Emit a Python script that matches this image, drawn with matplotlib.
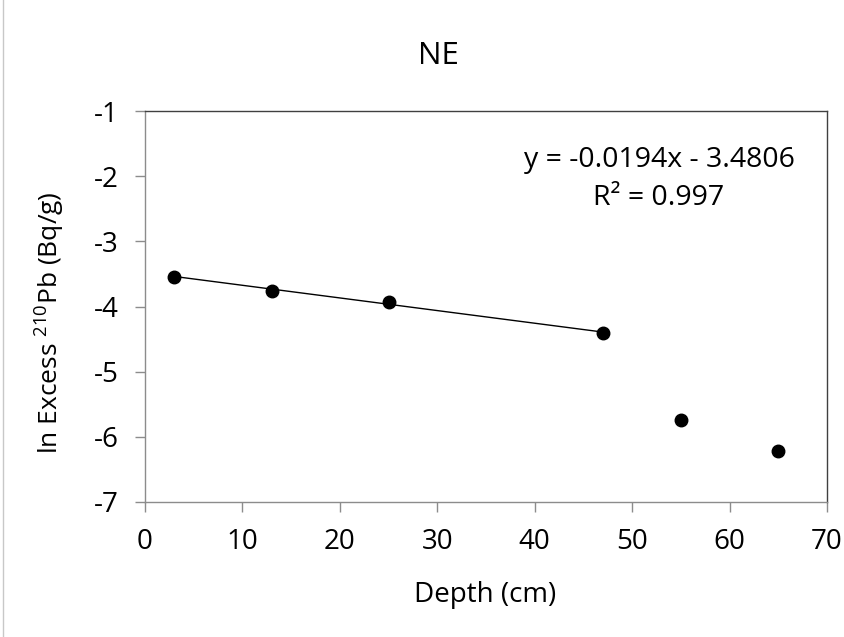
import matplotlib
matplotlib.use("Agg")
import matplotlib.pyplot as plt
import numpy as np

plt.rcParams['font.family'] = ['Open Sans', 'DejaVu Sans']
plt.rcParams['mathtext.fontset'] = 'custom'
plt.rcParams['mathtext.rm'] = 'Open Sans'
plt.rcParams['mathtext.it'] = 'Open Sans:italic'
plt.rcParams['axes.unicode_minus'] = False

# data
depth = [3, 13, 25, 47, 55, 65]
ln_pb = [-3.54, -3.76, -3.93, -4.40, -5.74, -6.21]
fit_depth = [3, 13, 25, 47]
slope = -0.0194
intercept = -3.4806
r2 = 0.997
xticks = [0, 10, 20, 30, 40, 50, 60, 70]
yticks = [-7, -6, -5, -4, -3, -2, -1]

fs = 20

fig = plt.figure(figsize=(8.45, 6.37), dpi=100)
ax = fig.add_axes([145/845, 1 - 502/637, (827-145)/845, (502-111)/637])

# trendline over the fitted points only
fx = np.array([min(fit_depth), max(fit_depth)])
ax.plot(fx, slope*fx + intercept, color='black', lw=1.0, zorder=2)
ax.plot(depth, ln_pb, 'o', color='black', ms=9, zorder=3)

ax.set_xlim(0, 70)
ax.set_ylim(-7, -1)
ax.set_xticks(xticks)
ax.set_yticks(yticks)
ax.tick_params(direction='out', length=7, width=1, color='#8c8c8c',
               labelsize=fs, pad=12)
for s in ['left', 'bottom']:
    ax.spines[s].set_color('#8c8c8c')
for s in ['top', 'right']:
    ax.spines[s].set_color('#404040')
for s in ax.spines.values():
    s.set_linewidth(1.0)

fig.text(438/845, 1 - 64/637, 'NE', ha='center', va='baseline', fontsize=22.5)
fig.text(485/845, 1 - 602/637, 'Depth (cm)', ha='center', va='baseline', fontsize=20)
fig.text(50/845, 1 - 323/637, r'ln Excess $^{210}$Pb (Bq/g)', ha='center',
         va='center', rotation=90, fontsize=19)
fig.text(659/845, 1 - 167/637, 'y = -0.0194x - 3.4806', ha='center',
         va='baseline', fontsize=20.5)
fig.text(659/845, 1 - 205/637, 'R² = 0.997', ha='center', va='baseline', fontsize=20.5)

# thin frame line at left edge
fig.add_artist(plt.Line2D([3/845, 3/845], [0, 1], color='#c8c8c8', lw=1,
                          transform=fig.transFigure))

fig.savefig('out.png', dpi=100)
